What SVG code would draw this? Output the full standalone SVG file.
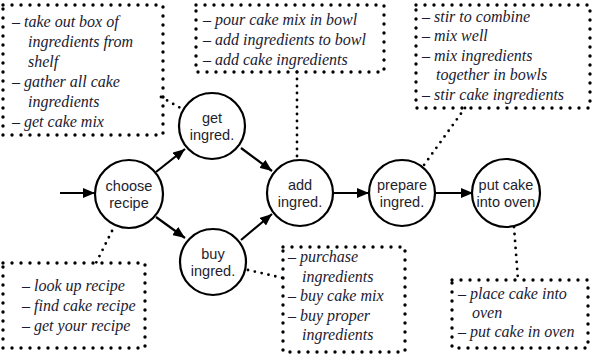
<svg xmlns="http://www.w3.org/2000/svg" width="592" height="356" viewBox="0 0 592 356">
<style>
.node circle{fill:#fff;stroke:#000;stroke-width:2.2}
.node text{font-family:"Liberation Sans",Arial,sans-serif;font-size:14.5px;fill:#1e1e2e;text-anchor:middle}
.box rect{fill:none;stroke:#000;stroke-width:3.4;stroke-dasharray:0 9;stroke-linecap:round}
.box text{font-family:"Liberation Serif","Times New Roman",serif;font-style:italic;font-size:16px;fill:#1a1a30}
.arrow{stroke:#000;stroke-width:2.2;fill:none;marker-end:url(#ah)}
.dot{stroke:#000;stroke-width:2.8;stroke-dasharray:0 7;stroke-linecap:round;fill:none}
</style>
<defs>
<marker id="ah" markerUnits="userSpaceOnUse" markerWidth="12" markerHeight="10" refX="12" refY="5" orient="auto">
<path d="M0,0 L12,5 L0,10 z" fill="#000"/>
</marker>
</defs>
<rect width="592" height="356" fill="#fff"/>

<g id="connectors">
<line class="arrow" x1="60" y1="193" x2="95" y2="193"/>
<line class="arrow" x1="156" y1="172" x2="185" y2="149"/>
<line class="arrow" x1="156" y1="217" x2="185" y2="238"/>
<line class="arrow" x1="241" y1="148" x2="272" y2="171"/>
<line class="arrow" x1="241" y1="240" x2="272" y2="214"/>
<line class="arrow" x1="333" y1="193" x2="369" y2="193"/>
<line class="arrow" x1="435" y1="193" x2="473" y2="193"/>
<line class="dot" x1="161" y1="97" x2="184" y2="110"/>
<line class="dot" x1="297" y1="72" x2="297" y2="160"/>
<line class="dot" x1="465" y1="108" x2="424" y2="165"/>
<line class="dot" x1="112" y1="231" x2="96" y2="263"/>
<line class="dot" x1="248" y1="270" x2="283" y2="278"/>
<line class="dot" x1="514" y1="227" x2="518" y2="280"/>
</g>

<g id="n-choose" class="node"><circle cx="129" cy="194" r="34"/><text x="129" y="191">choose</text><text x="129" y="208">recipe</text></g>
<g id="n-get" class="node"><circle cx="212" cy="126" r="33"/><text x="212" y="123">get</text><text x="212" y="140">ingred.</text></g>
<g id="n-buy" class="node"><circle cx="213" cy="262" r="33"/><text x="213" y="259">buy</text><text x="213" y="276">ingred.</text></g>
<g id="n-add" class="node"><circle cx="300" cy="193" r="33"/><text x="300" y="190">add</text><text x="300" y="207">ingred.</text></g>
<g id="n-prepare" class="node"><circle cx="402" cy="193" r="33"/><text x="402" y="190">prepare</text><text x="402" y="207">ingred.</text></g>
<g id="n-put" class="node"><circle cx="506" cy="193" r="34"/><text x="506" y="190">put cake</text><text x="506" y="207">into oven</text></g>

<g id="b-get" class="box"><rect x="3" y="5" width="160" height="130"/>
<text x="12" y="27">– take out box of</text>
<text x="28" y="47">ingredients from</text>
<text x="28" y="67">shelf</text>
<text x="12" y="87">– gather all cake</text>
<text x="28" y="107">ingredients</text>
<text x="12" y="127">– get cake mix</text></g>

<g id="b-add" class="box"><rect x="196" y="5" width="188" height="67"/>
<text x="203" y="25">– pour cake mix in bowl</text>
<text x="203" y="45">– add ingredients to bowl</text>
<text x="203" y="65">– add cake ingredients</text></g>

<g id="b-prepare" class="box"><rect x="416" y="5" width="174" height="103"/>
<text x="422" y="22">– stir to combine</text>
<text x="422" y="41">– mix well</text>
<text x="422" y="61">– mix ingredients</text>
<text x="436" y="80">together in bowls</text>
<text x="422" y="100">– stir cake ingredients</text></g>

<g id="b-choose" class="box"><rect x="3" y="263" width="142" height="85"/>
<text x="22" y="291">– look up recipe</text>
<text x="22" y="311">– find cake recipe</text>
<text x="22" y="331">– get your recipe</text></g>

<g id="b-buy" class="box"><rect x="283" y="247" width="122" height="105"/>
<text x="288" y="262">– purchase</text>
<text x="302" y="282">ingredients</text>
<text x="288" y="301">– buy cake mix</text>
<text x="288" y="321">– buy proper</text>
<text x="302" y="340">ingredients</text></g>

<g id="b-put" class="box"><rect x="452" y="280" width="136" height="68"/>
<text x="458" y="299">– place cake into</text>
<text x="472" y="318">oven</text>
<text x="458" y="337">– put cake in oven</text></g>
</svg>
